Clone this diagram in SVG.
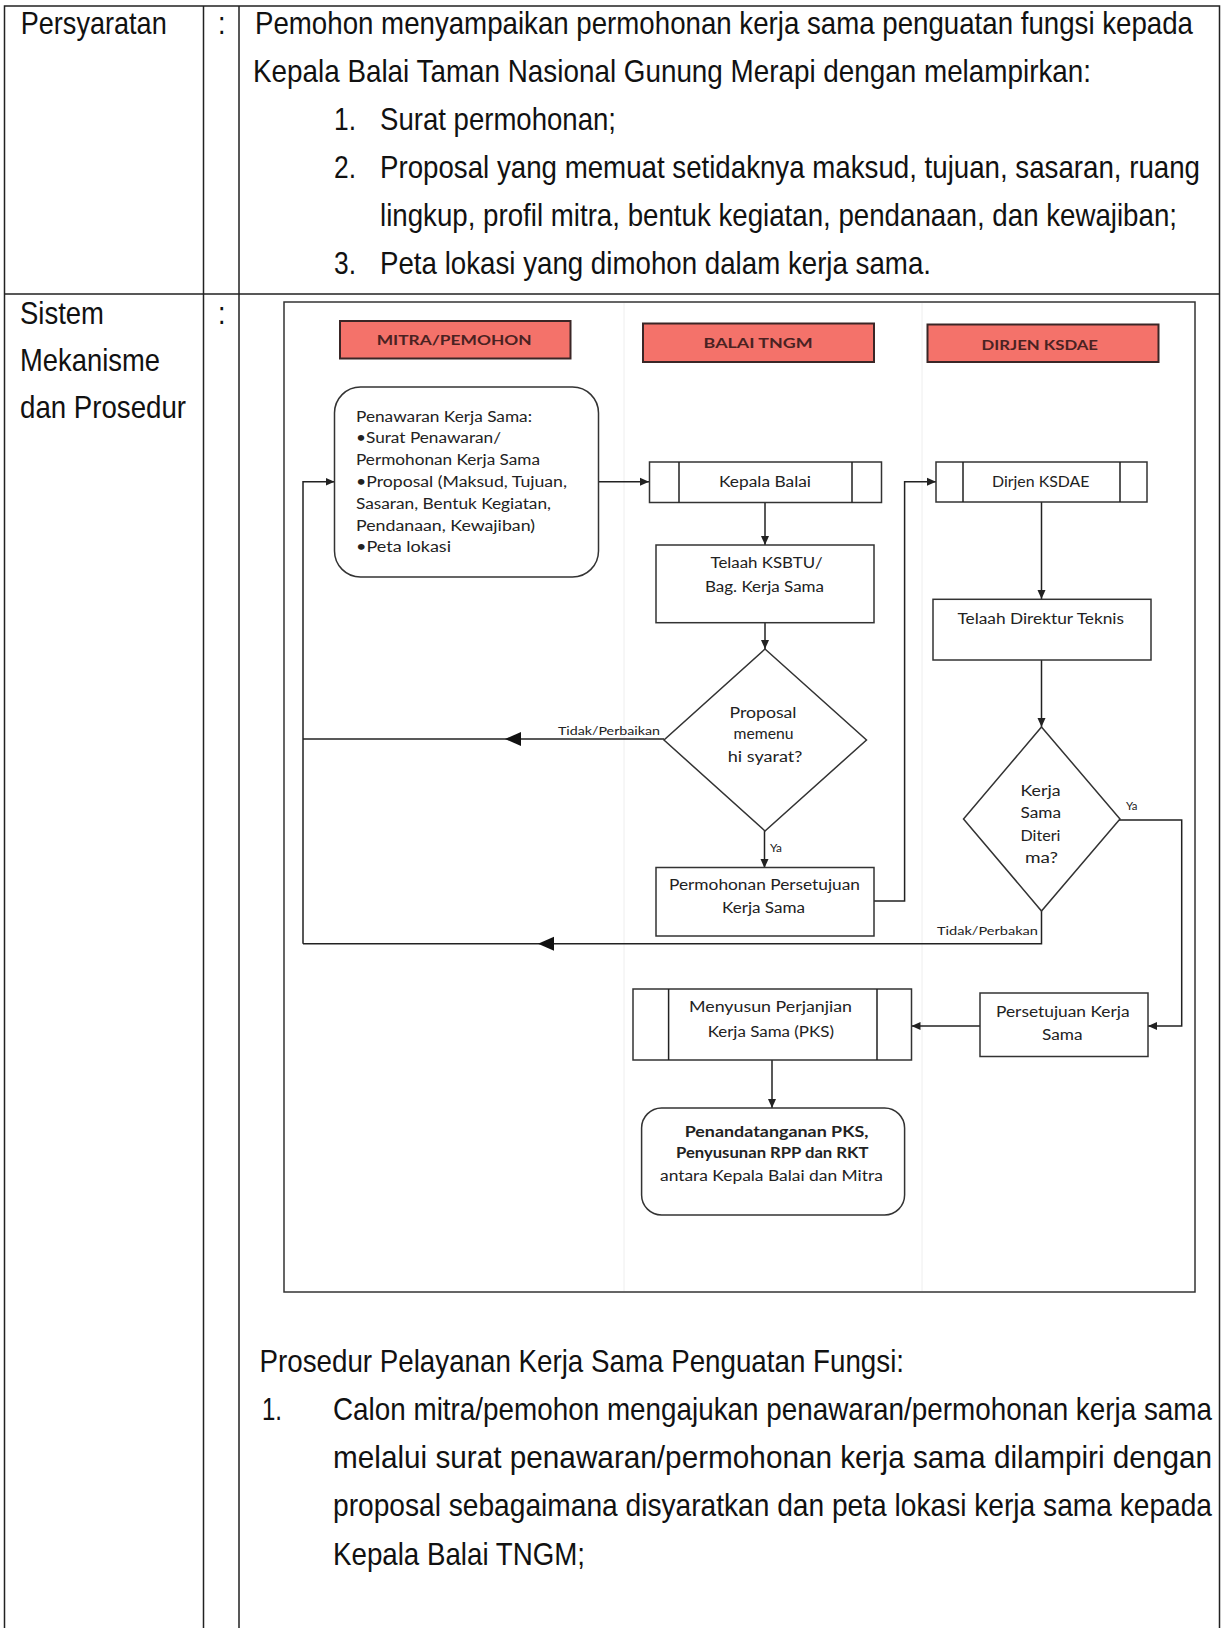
<svg xmlns="http://www.w3.org/2000/svg" width="1222" height="1628" viewBox="0 0 1222 1628">
<style>
.body{font-family:"Liberation Sans",Arial,sans-serif;font-size:27px;fill:#111}
.fc{font-family:Lato,"Open Sans",sans-serif;font-size:14.5px;fill:#222}
.b{font-weight:bold}
.hdr{font-family:Lato,"Open Sans",sans-serif;font-size:14px;font-weight:bold;fill:#4a2222}
.lbl{font-family:Lato,"Open Sans",sans-serif;font-size:11px;fill:#222}
.box{fill:#fff;stroke:#333;stroke-width:1.5}
.hbox{fill:#f4726a;stroke:#3a2626;stroke-width:2}
.con{fill:none;stroke:#222;stroke-width:1.5}
.tbl{fill:none;stroke:#222;stroke-width:1.5}
.lane{fill:none;stroke:#eeeeee;stroke-width:1}
</style>
<defs>
<marker id="ah" markerWidth="10" markerHeight="10" refX="9" refY="5" orient="auto" markerUnits="userSpaceOnUse">
<path d="M0,1 L9,5 L0,9 z" fill="#222"/>
</marker>
</defs>
<rect width="1222" height="1628" fill="#fff"/>

<g id="table">
<path class="tbl" d="M4.5,1628 V6 H1219.5 V1628 M203.5,6 V1628 M239,6 V1628 M4.5,294 H1219.5"/>
</g>

<g id="row1-text" class="body">
<text transform="translate(20.7,33.5) scale(1,1.185)" textLength="146" lengthAdjust="spacingAndGlyphs">Persyaratan</text>
<text transform="translate(218,33.5) scale(1,1.185)">:</text>
<text transform="translate(255,33.5) scale(1,1.185)" textLength="938" lengthAdjust="spacingAndGlyphs">Pemohon menyampaikan permohonan kerja sama penguatan fungsi kepada</text>
<text transform="translate(253,81.5) scale(1,1.185)" textLength="838" lengthAdjust="spacingAndGlyphs">Kepala Balai Taman Nasional Gunung Merapi dengan melampirkan:</text>
<text transform="translate(334,129.5) scale(1,1.185)" textLength="22" lengthAdjust="spacingAndGlyphs">1.</text>
<text transform="translate(380,129.5) scale(1,1.185)" textLength="236" lengthAdjust="spacingAndGlyphs">Surat permohonan;</text>
<text transform="translate(334,177.5) scale(1,1.185)" textLength="22" lengthAdjust="spacingAndGlyphs">2.</text>
<text transform="translate(380,177.5) scale(1,1.185)" textLength="820" lengthAdjust="spacingAndGlyphs">Proposal yang memuat setidaknya maksud, tujuan, sasaran, ruang</text>
<text transform="translate(380,225.5) scale(1,1.185)" textLength="797" lengthAdjust="spacingAndGlyphs">lingkup, profil mitra, bentuk kegiatan, pendanaan, dan kewajiban;</text>
<text transform="translate(334,273.5) scale(1,1.185)" textLength="22" lengthAdjust="spacingAndGlyphs">3.</text>
<text transform="translate(380,273.5) scale(1,1.185)" textLength="551" lengthAdjust="spacingAndGlyphs">Peta lokasi yang dimohon dalam kerja sama.</text>
</g>

<g id="row2-text" class="body">
<text transform="translate(20,323.5) scale(1,1.185)" textLength="84" lengthAdjust="spacingAndGlyphs">Sistem</text>
<text transform="translate(20,370.5) scale(1,1.185)" textLength="140" lengthAdjust="spacingAndGlyphs">Mekanisme</text>
<text transform="translate(20,418) scale(1,1.185)" textLength="166" lengthAdjust="spacingAndGlyphs">dan Prosedur</text>
<text transform="translate(218,323.5) scale(1,1.185)">:</text>
<text transform="translate(259.5,1371.5) scale(1,1.185)" textLength="644.5" lengthAdjust="spacingAndGlyphs">Prosedur Pelayanan Kerja Sama Penguatan Fungsi:</text>
<text transform="translate(262,1420) scale(1,1.185)" textLength="20" lengthAdjust="spacingAndGlyphs">1.</text>
<text transform="translate(333,1420) scale(1,1.185)" textLength="879" lengthAdjust="spacingAndGlyphs">Calon mitra/pemohon mengajukan penawaran/permohonan kerja sama</text>
<text transform="translate(333,1468) scale(1,1.185)" textLength="879" lengthAdjust="spacingAndGlyphs">melalui surat penawaran/permohonan kerja sama dilampiri dengan</text>
<text transform="translate(333,1516) scale(1,1.185)" textLength="879" lengthAdjust="spacingAndGlyphs">proposal sebagaimana disyaratkan dan peta lokasi kerja sama kepada</text>
<text transform="translate(333,1565) scale(1,1.185)" textLength="252" lengthAdjust="spacingAndGlyphs">Kepala Balai TNGM;</text>
</g>

<g id="diagram-frame">
<rect x="284" y="302" width="911" height="990" fill="none" stroke="#333" stroke-width="1.5"/>
<path class="lane" d="M624,303 V1291 M922,303 V1291"/>
</g>

<g id="lane-mitra">
<rect class="hbox" x="340" y="321" width="230.5" height="37.5"/>
<text class="hdr" x="376.7" y="345" textLength="155" lengthAdjust="spacingAndGlyphs">MITRA/PEMOHON</text>
</g>
<g id="lane-balai">
<rect class="hbox" x="643" y="323.5" width="231" height="38.5"/>
<text class="hdr" x="703.6" y="348" textLength="109" lengthAdjust="spacingAndGlyphs">BALAI TNGM</text>
</g>
<g id="lane-dirjen">
<rect class="hbox" x="927.5" y="324.5" width="231" height="37.5"/>
<text class="hdr" x="981.5" y="350" textLength="116.5" lengthAdjust="spacingAndGlyphs">DIRJEN KSDAE</text>
</g>

<g id="connectors">
<line class="con" x1="598.6" y1="481.7" x2="649" y2="481.7" marker-end="url(#ah)"/>
<path class="con" d="M303,943.7 V481.7 H334.5" marker-end="url(#ah)"/>
<line class="con" x1="765" y1="502.7" x2="765" y2="545" marker-end="url(#ah)"/>
<line class="con" x1="765" y1="622.7" x2="765" y2="649" marker-end="url(#ah)"/>
<line class="con" x1="664" y1="739" x2="303" y2="739"/>
<path d="M505,739 L521,732 L521,746 z" fill="#111"/>
<line class="con" x1="764.5" y1="831" x2="764.5" y2="868" marker-end="url(#ah)"/>
<path class="con" d="M874,901 H904.6 V481.7 H936" marker-end="url(#ah)"/>
<line class="con" x1="1041.5" y1="501.7" x2="1041.5" y2="599" marker-end="url(#ah)"/>
<line class="con" x1="1041.5" y1="660" x2="1041.5" y2="727" marker-end="url(#ah)"/>
<path class="con" d="M1119,820 H1181.7 V1026 H1148" marker-end="url(#ah)"/>
<path class="con" d="M1041.5,911 V943.7 H303"/>
<path d="M538,943.7 L554,936.7 L554,950.7 z" fill="#111"/>
<line class="con" x1="980" y1="1026" x2="911.5" y2="1026" marker-end="url(#ah)"/>
<line class="con" x1="772" y1="1060" x2="772" y2="1108" marker-end="url(#ah)"/>
<text class="lbl" x="558" y="735" textLength="102" lengthAdjust="spacingAndGlyphs">Tidak/Perbaikan</text>
<text class="lbl" x="770" y="852" textLength="12" lengthAdjust="spacingAndGlyphs">Ya</text>
<text class="lbl" x="1126" y="810" textLength="11.5" lengthAdjust="spacingAndGlyphs">Ya</text>
<text class="lbl" x="937" y="935" textLength="101" lengthAdjust="spacingAndGlyphs">Tidak/Perbakan</text>
</g>

<g id="node-penawaran">
<rect class="box" x="334.5" y="387" width="264" height="190" rx="26" ry="26"/>
<g class="fc">
<text x="356" y="421.5" textLength="176" lengthAdjust="spacingAndGlyphs">Penawaran Kerja Sama:</text>
<text x="356" y="443.3" textLength="145" lengthAdjust="spacingAndGlyphs">•Surat Penawaran/</text>
<text x="356" y="465.1" textLength="184" lengthAdjust="spacingAndGlyphs">Permohonan Kerja Sama</text>
<text x="356" y="486.9" textLength="211" lengthAdjust="spacingAndGlyphs">•Proposal (Maksud, Tujuan,</text>
<text x="356" y="508.7" textLength="195" lengthAdjust="spacingAndGlyphs">Sasaran, Bentuk Kegiatan,</text>
<text x="356" y="530.5" textLength="179" lengthAdjust="spacingAndGlyphs">Pendanaan, Kewajiban)</text>
<text x="356" y="552.3" textLength="95" lengthAdjust="spacingAndGlyphs">•Peta lokasi</text>
</g>
</g>

<g id="node-kepala-balai">
<rect class="box" x="649.5" y="462" width="232" height="40.5"/>
<path class="con" d="M679,462 V502.5 M852,462 V502.5"/>
<text class="fc" x="719" y="486.5" textLength="92" lengthAdjust="spacingAndGlyphs">Kepala Balai</text>
</g>

<g id="node-telaah-ksbtu">
<rect class="box" x="656" y="545" width="218" height="77.7"/>
<g class="fc">
<text x="710.5" y="568" textLength="112" lengthAdjust="spacingAndGlyphs">Telaah KSBTU/</text>
<text x="705" y="591.7" textLength="119" lengthAdjust="spacingAndGlyphs">Bag. Kerja Sama</text>
</g>
</g>

<g id="node-proposal-decision">
<path class="box" d="M765,649 L866.5,740 L765,831 L664,740 z"/>
<g class="fc">
<text x="729.5" y="718" textLength="67" lengthAdjust="spacingAndGlyphs">Proposal</text>
<text x="733.5" y="739" textLength="60" lengthAdjust="spacingAndGlyphs">memenu</text>
<text x="727.8" y="761.7" textLength="74.6" lengthAdjust="spacingAndGlyphs">hi syarat?</text>
</g>
</g>

<g id="node-permohonan-persetujuan">
<rect class="box" x="656" y="867.5" width="218" height="68.5"/>
<g class="fc">
<text x="669" y="890" textLength="191" lengthAdjust="spacingAndGlyphs">Permohonan Persetujuan</text>
<text x="722" y="913.3" textLength="83" lengthAdjust="spacingAndGlyphs">Kerja Sama</text>
</g>
</g>

<g id="node-dirjen">
<rect class="box" x="936" y="462" width="211" height="40"/>
<path class="con" d="M963,462 V502 M1120,462 V502"/>
<text class="fc" x="992" y="486.5" textLength="97.5" lengthAdjust="spacingAndGlyphs">Dirjen KSDAE</text>
</g>

<g id="node-telaah-direktur">
<rect class="box" x="933" y="599.3" width="218" height="60.7"/>
<text class="fc" x="957.4" y="624" textLength="166.6" lengthAdjust="spacingAndGlyphs">Telaah Direktur Teknis</text>
</g>

<g id="node-kerjasama-decision">
<path class="box" d="M1041.5,727 L1120,819 L1041.5,911 L963.5,819 z"/>
<g class="fc">
<text x="1020.5" y="795.7" textLength="40" lengthAdjust="spacingAndGlyphs">Kerja</text>
<text x="1020.5" y="818.3" textLength="40.5" lengthAdjust="spacingAndGlyphs">Sama</text>
<text x="1020.5" y="841" textLength="40" lengthAdjust="spacingAndGlyphs">Diteri</text>
<text x="1025" y="863.3" textLength="33" lengthAdjust="spacingAndGlyphs">ma?</text>
</g>
</g>

<g id="node-persetujuan">
<rect class="box" x="980" y="993" width="168" height="63.5"/>
<g class="fc">
<text x="996" y="1016.7" textLength="133.6" lengthAdjust="spacingAndGlyphs">Persetujuan Kerja</text>
<text x="1042" y="1040" textLength="40.5" lengthAdjust="spacingAndGlyphs">Sama</text>
</g>
</g>

<g id="node-menyusun-pks">
<rect class="box" x="633" y="989" width="278.5" height="71"/>
<path class="con" d="M668.6,989 V1060 M877,989 V1060"/>
<g class="fc">
<text x="689" y="1012.3" textLength="163" lengthAdjust="spacingAndGlyphs">Menyusun Perjanjian</text>
<text x="707.7" y="1036.7" textLength="126.3" lengthAdjust="spacingAndGlyphs">Kerja Sama (PKS)</text>
</g>
</g>

<g id="node-penandatanganan">
<rect class="box" x="641.6" y="1108" width="263" height="107" rx="20" ry="20"/>
<g class="fc">
<text class="b" x="684.7" y="1136.7" textLength="183.7" lengthAdjust="spacingAndGlyphs">Penandatanganan  PKS,</text>
<text class="b" x="676" y="1158.3" textLength="192.4" lengthAdjust="spacingAndGlyphs">Penyusunan  RPP dan RKT</text>
<text x="660" y="1181" textLength="222.8" lengthAdjust="spacingAndGlyphs">antara Kepala Balai dan Mitra</text>
</g>
</g>
</svg>
